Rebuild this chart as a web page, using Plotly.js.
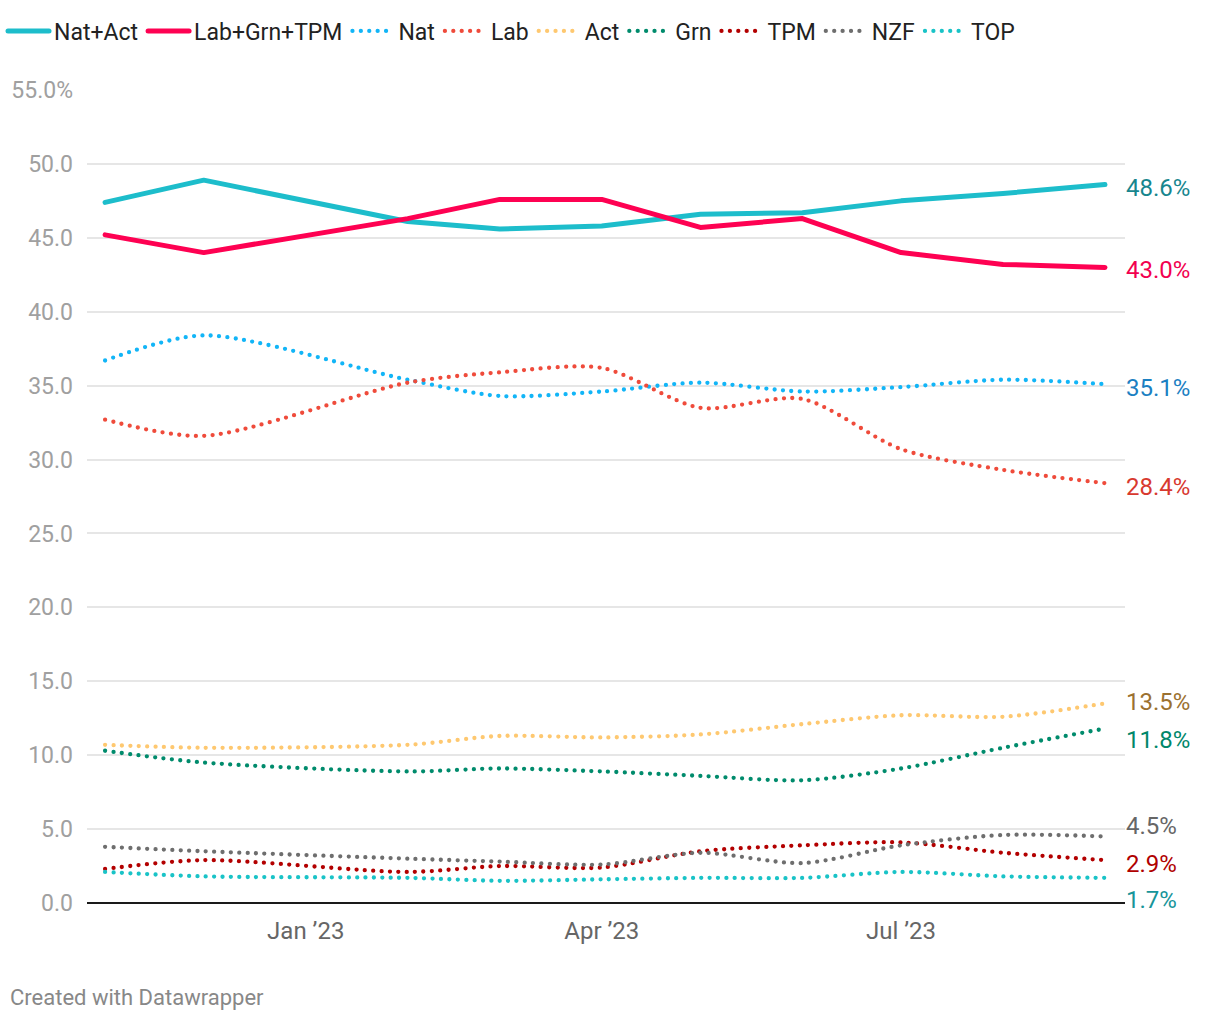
<!DOCTYPE html>
<html><head><meta charset="utf-8">
<script src="https://cdn.plot.ly/plotly-3.0.1.min.js"></script>
<style>
html,body{margin:0;padding:0;background:#fff;}
#chart{width:1220px;height:1020px;}
#chart .js-line{stroke-linecap:round !important;stroke-linejoin:round !important;}
</style></head><body><div id="chart"></div>
<script>
// Poll dates (monthly, no January poll)
const dates = ['2022-11-01','2022-12-01','2023-02-01','2023-03-01','2023-04-01','2023-05-01','2023-06-01','2023-07-01','2023-08-01','2023-09-01'];
// Series values (%)
const natAct    = [47.4, 48.9, 46.1, 45.6, 45.8, 46.6, 46.7, 47.5, 48.0, 48.6];
const labGrnTpm = [45.2, 44.0, 46.3, 47.6, 47.6, 45.7, 46.3, 44.0, 43.2, 43.0];
const nat = [36.7, 38.4, 35.4, 34.3, 34.6, 35.2, 34.6, 34.9, 35.4, 35.1];
const lab = [32.7, 31.6, 35.2, 35.9, 36.2, 33.5, 34.1, 30.7, 29.3, 28.4];
const act = [10.7, 10.5, 10.7, 11.3, 11.2, 11.4, 12.1, 12.7, 12.6, 13.5];
const grn = [10.3, 9.5, 8.9, 9.1, 8.9, 8.6, 8.3, 9.1, 10.5, 11.8];
const tpm = [2.3, 2.9, 2.1, 2.5, 2.4, 3.5, 3.9, 4.1, 3.4, 2.9];
const nzf = [3.8, 3.5, 3.0, 2.8, 2.6, 3.4, 2.7, 3.9, 4.6, 4.5];
const topParty = [2.1, 1.8, 1.7, 1.5, 1.6, 1.7, 1.7, 2.1, 1.8, 1.7];
const seriesNames = ['Nat+Act','Lab+Grn+TPM','Nat','Lab','Act','Grn','TPM','NZF','TOP'];
// Axis ticks
const yTickVals = [0,5,10,15,20,25,30,35,40,45,50,55];
const yTickText = ['0.0','5.0','10.0','15.0','20.0','25.0','30.0','35.0','40.0','45.0','50.0','55.0%'];
const xTickVals = ['2023-01-01','2023-04-01','2023-07-01'];
const xTickText = ['Jan ’23','Apr ’23','Jul ’23'];

const values = [natAct, labGrnTpm, nat, lab, act, grn, tpm, nzf, topParty];
// Styles (colour, label colour, heavy line, end-label vertical offset in px)
const styles = [
  {color:'#1dbdcb', label:'#17868e', heavy:true,  shift:-3},
  {color:'#fe0152', label:'#f2004f', heavy:true,  shift:-3},
  {color:'#12b5f7', label:'#1b80c2', heavy:false, shift:-4},
  {color:'#ef4b3b', label:'#d8392f', heavy:false, shift:-4},
  {color:'#fec870', label:'#9b7130', heavy:false, shift:1},
  {color:'#008b6c', label:'#00876a', heavy:false, shift:-11},
  {color:'#b30000', label:'#b00000', heavy:false, shift:-4},
  {color:'#6e6e6e', label:'#666666', heavy:false, shift:10},
  {color:'#19c3c7', label:'#17959a', heavy:false, shift:-22}
];

const FONT = 'Roboto, "Open Sans", sans-serif';
const traces = values.map((v, i) => ({
  x: dates, y: v, name: seriesNames[i], type: 'scatter', mode: 'lines',
  hoverinfo: 'skip',
  line: styles[i].heavy
    ? {color: styles[i].color, width: 5, shape: 'linear'}
    : {color: styles[i].color, width: 4.3, dash: '0px,8.4px', shape: 'spline', smoothing: 0.8}
}));
// Heavy lines drawn on top
const ordered = traces.slice(2).concat(traces.slice(0, 2));

const annotations = values.map((v, i) => ({
  xref: 'paper', yref: 'y', x: 1, y: v[v.length - 1],
  xanchor: 'left', yanchor: 'middle', xshift: -1, yshift: styles[i].shift,
  text: v[v.length - 1].toFixed(1) + '%', showarrow: false,
  font: {family: FONT, size: 24, color: styles[i].label}
}));
annotations.push({
  xref: 'paper', yref: 'paper', x: 0, y: -(997-903)/813,
  xanchor: 'left', yanchor: 'middle', xshift: -79,
  text: 'Created with Datawrapper', showarrow: false,
  font: {family: FONT, size: 22, color: '#888888'}
});

const layout = {
  width: 1220, height: 1020,
  margin: {l: 87, r: 95, t: 90, b: 117},
  paper_bgcolor: '#ffffff', plot_bgcolor: '#ffffff',
  font: {family: FONT},
  showlegend: true,
  legend: {
    orientation: 'h', xref: 'container', yref: 'container',
    x: 3/1220, y: 1 - 31/1020, xanchor: 'left', yanchor: 'middle',
    font: {family: FONT, size: 23, color: '#222222'}, traceorder: 'normal',
    itemwidth: 41, bgcolor: 'rgba(0,0,0,0)'
  },
  xaxis: {
    type: 'date', range: ['2022-10-26 12:00', '2023-09-07 02:00'],
    tickmode: 'array', tickvals: xTickVals, ticktext: xTickText,
    showgrid: false, zeroline: false, ticks: '', showline: false,
    ticklabelstandoff: 11, automargin: false,
    tickfont: {family: FONT, size: 24, color: '#666666'}, fixedrange: true
  },
  yaxis: {
    range: [0, 55], tickmode: 'array', tickvals: yTickVals, ticktext: yTickText,
    showgrid: true, gridcolor: '#e6e6e6', gridwidth: 2,
    zeroline: true, zerolinecolor: '#1a1a1a', zerolinewidth: 2,
    ticks: '', ticklabelstandoff: 13, showline: false, automargin: false,
    tickfont: {family: FONT, size: 23, color: '#a0a0a0'}, fixedrange: true
  },
  annotations: annotations
};

// legend order must follow series order
ordered.forEach(t => { t.legendrank = seriesNames.indexOf(t.name) + 1; });
Plotly.newPlot('chart', ordered, layout, {displayModeBar: false, staticPlot: true});
</script></body></html>
